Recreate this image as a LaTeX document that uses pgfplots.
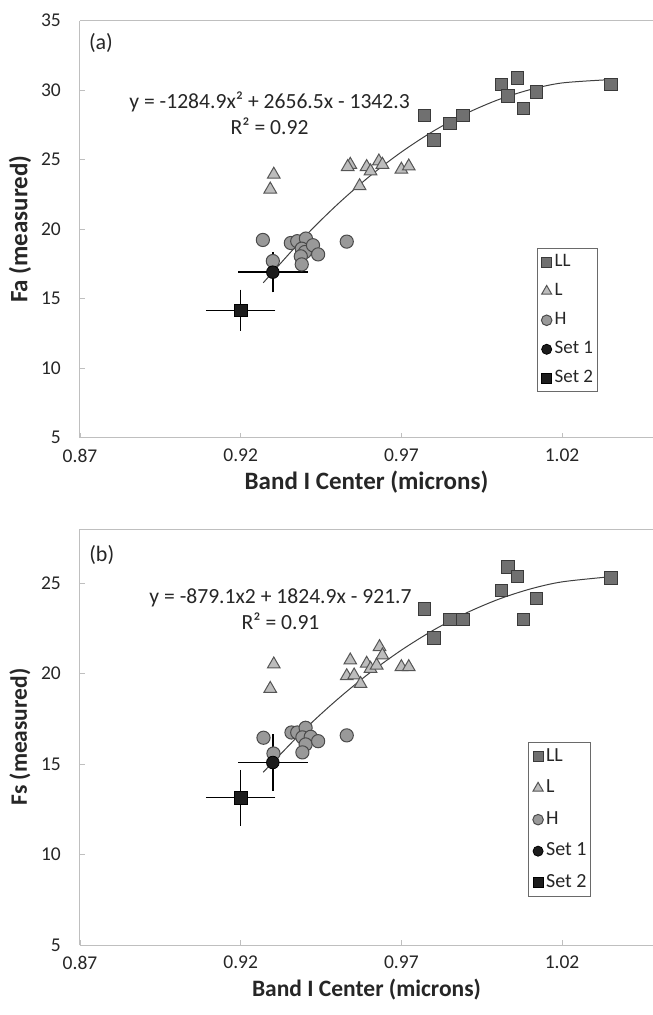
\documentclass[border=0pt]{standalone}
\usepackage{fontspec}
\setmainfont{Carlito}
\usepackage{pgfplots}
\pgfplotsset{compat=1.18}
\definecolor{axisgray}{HTML}{BFBFBF}
\definecolor{txt}{HTML}{262626}
\definecolor{llfill}{HTML}{707070}
\definecolor{lldraw}{HTML}{3A3A3A}
\definecolor{lfill}{HTML}{BDBDBD}
\definecolor{ldraw}{HTML}{555555}
\definecolor{hfill}{HTML}{999999}
\definecolor{hdraw}{HTML}{4A4A4A}
\definecolor{setc}{HTML}{1C1C1C}
\definecolor{trend}{HTML}{404040}
\definecolor{leggray}{HTML}{6A6A6A}
\pgfplotsset{
  common/.style={
    scale only axis, width=573pt,
    xmin=0.87, xmax=1.0483,
    axis x line*=bottom, axis y line*=left,
    axis line style={draw=axisgray, line width=1pt},
    every tick/.style={draw=axisgray, line width=0.8pt},
    major tick length=5pt, tick align=inside,
    xtick={0.87,0.92,0.97,1.02},
    xticklabels={0.87,0.92,0.97,1.02},
    /pgf/number format/assume math mode=true,
    ticklabel style={font=\fontsize{19.5}{22}\selectfont, text=txt},
    xticklabel style={inner sep=0pt, anchor=north, yshift=-11pt},
    yticklabel style={inner sep=0pt, anchor=east, xshift=-19pt},
    xlabel style={at={(axis description cs:0.5,0)}, anchor=center, yshift=-44.5pt, text=txt},
    ylabel style={at={(axis description cs:-0.1047,0.5)}, anchor=center, text=txt},
    legend cell align=left,
    legend image code/.code={\path[draw=none, fill=none] (0pt,-5pt) rectangle (13pt,5pt);
      \draw[##1, every mark/.append style={scale=0.8}] plot coordinates {(6.5pt,0pt)};},
    clip=false,
  },
  ll/.style={only marks, mark=square*, mark size=6.25pt, color=lldraw, mark options={fill=llfill, draw=lldraw, line width=1pt}},
  lt/.style={only marks, mark=triangle*, mark size=7.3pt, color=ldraw, mark options={fill=lfill, draw=ldraw, line width=1pt}},
  hh/.style={only marks, mark=*, mark size=6.6pt, color=hdraw, mark options={fill=hfill, draw=hdraw, line width=1pt}},
  s1/.style={only marks, mark=*, mark size=6.3pt, color=setc, mark options={fill=setc, draw=black, line width=0.8pt},
    error bars/.cd, x dir=both, x explicit, y dir=both, y explicit,
    error bar style={line width=1.4pt, black},
    error mark options={line width=1.4pt, mark size=2.6pt, black}},
  s2/.style={only marks, mark=square*, mark size=6.3pt, color=setc, mark options={fill=setc, draw=black, line width=0.8pt},
    error bars/.cd, x dir=both, x explicit, y dir=both, y explicit,
    error bar style={line width=1.4pt, black},
    error mark options={line width=1.4pt, mark size=2.6pt, black}},
  tr/.style={no marks, smooth, color=trend, line width=1pt, forget plot},
}
\begin{document}
\begin{tikzpicture}[x=1pt,y=1pt]
\useasboundingbox (0,0) rectangle (653,-1015);
% ---------- panel (a) ----------
\begin{axis}[common,
  at={(80pt,-437.5pt)}, anchor=south west, height=416.8pt,
  ymin=5, ymax=35, ytick={5,10,15,20,25,30,35},
  xlabel={\fontsize{25}{28}\selectfont\bfseries Band I Center (microns)},
  ylabel={\fontsize{25}{28}\selectfont\bfseries Fa (measured)},
  legend style={at={(0.797,0.454)}, anchor=north west, draw=leggray, line width=1pt,
    fill=white, font=\fontsize{19}{22}\selectfont, text=txt, row sep=10pt,
    inner xsep=3pt, inner ysep=4pt,
    nodes={inner xsep=1.5pt, inner ysep=1pt, text height=13pt, text depth=4pt}},
]
\draw[axisgray, line width=1pt] (rel axis cs:0,1) -- (rel axis cs:1,1);
\addplot[ll] coordinates {(0.9772,28.17) (0.9802,26.43) (0.9851,27.6) (0.9891,28.17) (1.0012,30.4) (1.0061,30.88) (1.0032,29.57) (1.0080,28.69) (1.0120,29.88) (1.0352,30.4)};
\addlegendentry{LL}
\addplot[lt] coordinates {(0.9292,22.86) (0.9303,23.93) (0.9541,24.64) (0.9533,24.48) (0.9570,23.1) (0.9592,24.48) (0.9604,24.17) (0.9630,24.88) (0.9641,24.64) (0.9700,24.29) (0.9723,24.52)};
\addlegendentry{L}
\addplot[hh] coordinates {(0.9269,19.22) (0.93,17.7) (0.9356,19.0) (0.9376,19.13) (0.9403,19.32) (0.9390,18.59) (0.94,18.35) (0.9387,18.04) (0.939,17.46) (0.9425,18.84) (0.9441,18.18) (0.953,19.1)};
\addlegendentry{H}
\addplot[s1] coordinates {(0.93,16.9) +- (0.01,1.27)};
\addlegendentry{Set 1}
\addplot[s2] coordinates {(0.92,14.16) +- (0.01,1.3)};
\addlegendentry{Set 2}
\addplot[tr] coordinates {(0.927,16.13) (0.94,19.47) (0.95,21.755) (0.96,23.78) (0.97,25.545) (0.98,27.06) (0.99,28.305) (1.00,29.3) (1.01,30.035) (1.02,30.52) (1.035,30.76)};
\node[font=\fontsize{21.6}{26.7}\selectfont, text=txt, align=center] at (axis cs:0.929,28.33) {y = -1284.9x² + 2656.5x - 1342.3\\R² = 0.92};
\node[font=\fontsize{22}{26}\selectfont, text=txt] at (axis description cs:0.0366,0.9465) {(a)};
\end{axis}
% ---------- panel (b) ----------
\begin{axis}[common,
  at={(80pt,-945pt)}, anchor=south west, height=416pt,
  ymin=5, ymax=28, ytick={5,10,15,20,25},
  xlabel={\fontsize{23.5}{26}\selectfont\bfseries Band I Center (microns)},
  ylabel={\fontsize{23.5}{26}\selectfont\bfseries Fs (measured)},
  legend style={at={(0.782,0.487)}, anchor=north west, draw=leggray, line width=1pt,
    fill=white, font=\fontsize{20}{23}\selectfont, text=txt, row sep=12pt,
    inner xsep=3pt, inner ysep=4pt,
    nodes={inner xsep=1.5pt, inner ysep=1pt, text height=13.5pt, text depth=4pt}},
]
\draw[axisgray, line width=1pt] (rel axis cs:0,1) -- (rel axis cs:1,1);
\addplot[ll] coordinates {(0.9772,23.57) (0.9802,21.98) (0.9851,23.0) (0.9891,23.0) (1.0012,24.59) (1.0032,25.89) (1.0061,25.37) (1.0080,23.0) (1.0120,24.17) (1.0352,25.28)};
\addlegendentry{LL}
\addplot[lt] coordinates {(0.9292,19.17) (0.9303,20.52) (0.9541,20.74) (0.953,19.87) (0.9553,19.91) (0.9573,19.44) (0.9592,20.56) (0.9604,20.28) (0.9623,20.46) (0.9632,21.48) (0.9641,21.02) (0.9700,20.37) (0.9723,20.37)};
\addlegendentry{L}
\addplot[hh] coordinates {(0.9271,16.46) (0.9302,15.59) (0.9358,16.75) (0.9376,16.75) (0.9402,17.01) (0.9392,16.48) (0.9418,16.51) (0.9402,16.09) (0.9392,15.65) (0.9441,16.27) (0.953,16.59)};
\addlegendentry{H}
\addplot[s1] coordinates {(0.93,15.09) +- (0.01,1.42)};
\addlegendentry{Set 1}
\addplot[s2] coordinates {(0.92,13.14) +- (0.01,1.4)};
\addlegendentry{Set 2}
\addplot[tr] coordinates {(0.927,14.55) (0.94,16.936) (0.95,18.565) (0.96,20.024) (0.97,21.303) (0.98,22.412) (0.99,23.341) (1.00,24.1) (1.01,24.679) (1.02,25.078) (1.035,25.36)};
\node[font=\fontsize{21.6}{25.7}\selectfont, text=txt, align=center] at (axis cs:0.9324,23.58) {y = -879.1x2 + 1824.9x - 921.7\\R² = 0.91};
\node[font=\fontsize{22}{26}\selectfont, text=txt] at (axis description cs:0.038,0.9375) {(b)};
\end{axis}
\end{tikzpicture}
\end{document}
